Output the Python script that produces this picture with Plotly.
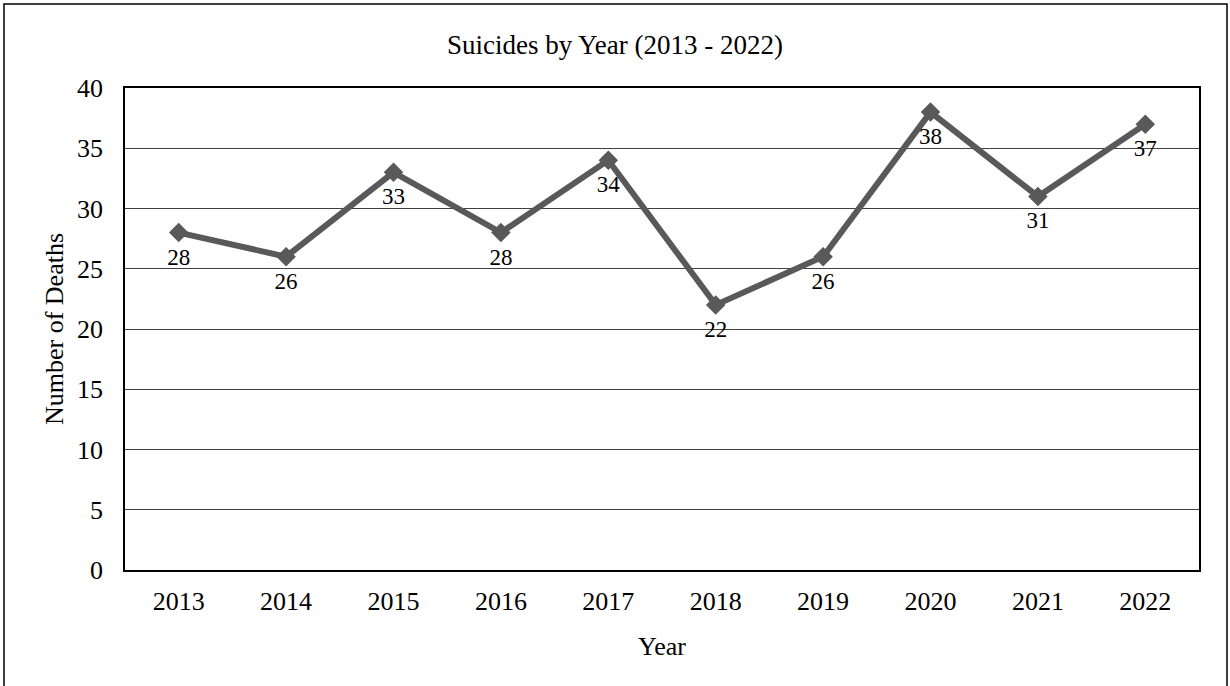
import plotly.graph_objects as go

years = ["2013", "2014", "2015", "2016", "2017", "2018", "2019", "2020", "2021", "2022"]
deaths = [28, 26, 33, 28, 34, 22, 26, 38, 31, 37]
y_ticks = [0, 5, 10, 15, 20, 25, 30, 35, 40]

FONT = "Liberation Serif, Times New Roman, serif"
W, H = 1230, 686
ML, MR, MT, MB = 125, 31, 88, 116
PW, PH = W - ML - MR, H - MT - MB

fig = go.Figure()
fig.add_trace(go.Scatter(
    x=years, y=deaths, mode="lines+markers",
    line=dict(color="#595959", width=6),
    marker=dict(symbol="diamond", size=15, color="#595959"),
    cliponaxis=False, showlegend=False,
))
# data labels (invisible larger markers push the text a bit further below)
fig.add_trace(go.Scatter(
    x=years, y=deaths, mode="markers+text",
    marker=dict(size=22, color="rgba(0,0,0,0)"),
    text=[str(v) for v in deaths], textposition="bottom center",
    textfont=dict(family=FONT, size=23, color="black"),
    cliponaxis=False, showlegend=False, hoverinfo="skip",
))

fig.update_layout(
    width=W, height=H,
    margin=dict(l=ML, r=MR, t=MT, b=MB),
    paper_bgcolor="white", plot_bgcolor="white",
    font=dict(family=FONT, color="black"),
    title=dict(text="Suicides by Year (2013 - 2022)", x=0.5, xanchor="center",
               y=1 - 45 / H, yanchor="middle",
               font=dict(family=FONT, size=27, color="black")),
    xaxis=dict(
        type="category", categoryorder="array", categoryarray=years,
        range=[-0.5, len(years) - 0.5],
        showgrid=False, showline=True, linecolor="black", linewidth=1.5, mirror=True,
        ticks="", tickfont=dict(family=FONT, size=26), ticklabelstandoff=7,
        title=dict(text="Year", font=dict(family=FONT, size=26), standoff=22),
    ),
    yaxis=dict(
        range=[0, 40], tickvals=y_ticks, showgrid=True, gridcolor="#404040", gridwidth=1,
        showline=True, linecolor="black", linewidth=1.5, mirror=True, zeroline=False,
        ticks="", tickfont=dict(family=FONT, size=26), ticklabelstandoff=15,
        title=dict(text="Number of Deaths", font=dict(family=FONT, size=26), standoff=6),
    ),
)

# outer chart border
fig.add_shape(type="rect", xref="paper", yref="paper",
              x0=(4 - ML) / PW, x1=(1227 - ML) / PW,
              y0=(H - MB - 695) / PH, y1=(H - MB - 4) / PH,
              line=dict(color="black", width=1.5), fillcolor="rgba(0,0,0,0)", layer="below")

fig.write_html("out.html", config={"displayModeBar": False},
               post_script="document.body.style.margin='0px';")
